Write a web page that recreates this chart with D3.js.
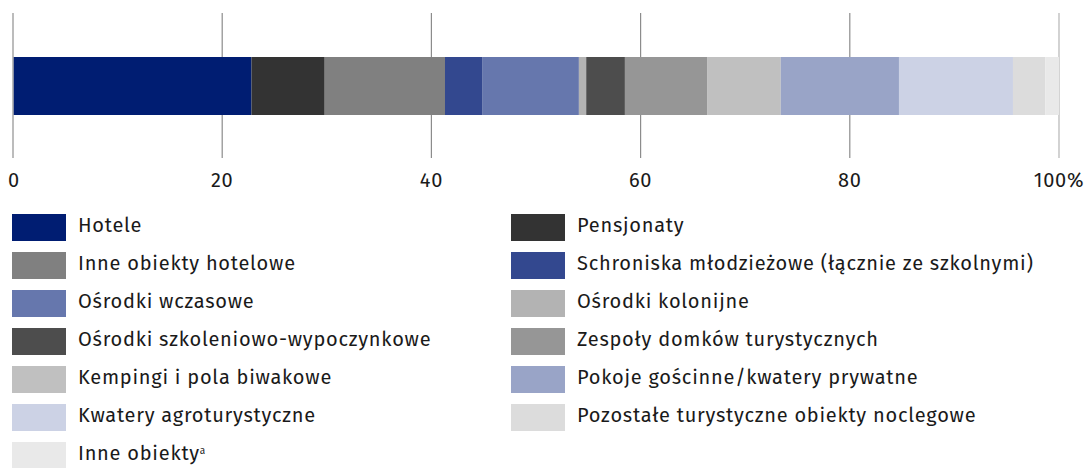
<!DOCTYPE html>
<html>
<head>
<meta charset="utf-8">
<script src="https://cdn.jsdelivr.net/npm/d3@7"></script>
<style>
  html, body { margin: 0; padding: 0; background: #fff; }
  svg { display: block; font-family: "Fira Sans", "Noto Sans", "Open Sans", sans-serif; }
</style>
</head>
<body>
<svg id="chart" width="1086" height="468"></svg>
<script>
const categories = [
  "Hotele",
  "Pensjonaty",
  "Inne obiekty hotelowe",
  "Schroniska młodzieżowe (łącznie ze szkolnymi)",
  "Ośrodki wczasowe",
  "Ośrodki kolonijne",
  "Ośrodki szkoleniowo-wypoczynkowe",
  "Zespoły domków turystycznych",
  "Kempingi i pola biwakowe",
  "Pokoje gościnne/kwatery prywatne",
  "Kwatery agroturystyczne",
  "Pozostałe turystyczne obiekty noclegowe",
  "Inne obiekty"
];
const values = [22.8, 7.0, 11.5, 3.6, 9.2, 0.7, 3.7, 7.9, 7.0, 11.3, 10.9, 3.1, 1.3];
const colors = ["#001d72", "#333333", "#808080", "#33488f", "#6677ad", "#b3b3b3",
                "#4d4d4d", "#969696", "#c0c0c0", "#99a4c7", "#ccd2e5", "#dcdcdc", "#e9e9e9"];
const tickValues = [0, 20, 40, 60, 80, 100];
const tickLabels = ["0", "20", "40", "60", "80", "100%"];
const superscripts = {"Inne obiekty": "a"};

const svg = d3.select("#chart");
const x = d3.scaleLinear().domain([0, 100]).range([13, 1059]);

// gridlines
svg.append("g").selectAll("line").data(tickValues).join("line")
  .attr("x1", d => x(d)).attr("x2", d => x(d))
  .attr("y1", 13).attr("y2", 158)
  .attr("stroke", d => (d === 0 || d === 100) ? "#b5b5b5" : "#8c8c8c")
  .attr("stroke-width", 1.2);

// stacked segments
const starts = [];
values.reduce((acc, v, i) => { starts[i] = acc; return acc + v; }, 0);
svg.append("g").selectAll("rect").data(values).join("rect")
  .attr("x", (d, i) => x(starts[i]))
  .attr("width", (d, i) => x(starts[i] + d) - x(starts[i]))
  .attr("y", 57).attr("height", 58)
  .attr("fill", (d, i) => colors[i]);

// 0 axis line on top
svg.append("line").attr("x1", x(0)).attr("x2", x(0)).attr("y1", 13).attr("y2", 158)
  .attr("stroke", "#b5b5b5").attr("stroke-width", 1.5);

// tick labels
svg.append("g").selectAll("text").data(tickValues).join("text")
  .attr("x", d => x(d))
  .attr("y", 187)
  .attr("text-anchor", d => d === 0 ? "start" : "middle")
  .attr("dx", d => d === 0 ? -5 : 0)
  .attr("font-size", 20)
  .attr("letter-spacing", 0.7)
  .attr("fill", "#1a1a1a")
  .text((d, i) => tickLabels[i]);

// legend
const legend = svg.append("g");
const items = legend.selectAll("g").data(categories).join("g")
  .attr("transform", (d, i) => `translate(${i % 2 === 0 ? 12 : 511},${214 + Math.floor(i / 2) * 38})`);
items.append("rect").attr("width", 54).attr("height", 27)
  .attr("fill", (d, i) => colors[i]);
const txt = items.append("text").attr("x", 66).attr("y", 17.5)
  .attr("font-size", 20).attr("letter-spacing", 0.75).attr("fill", "#1a1a1a");
txt.append("tspan").text(d => d);
txt.filter(d => superscripts[d]).append("tspan")
  .attr("font-size", 10).attr("letter-spacing", 0).attr("dy", -6).text(d => superscripts[d]);
</script>
</body>
</html>
